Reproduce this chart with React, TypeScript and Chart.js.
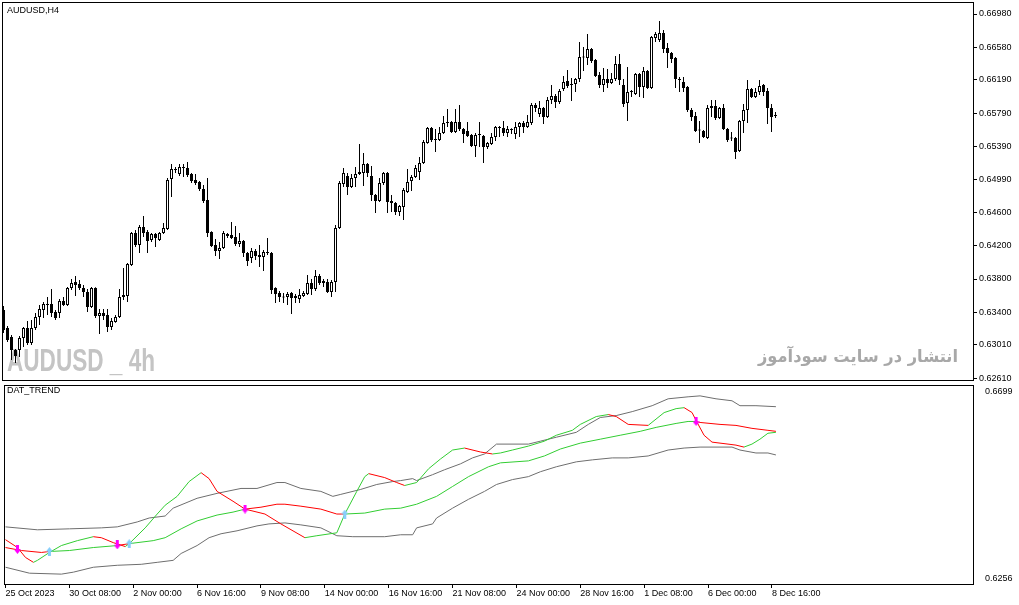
import React, { useEffect, useRef } from "react";
import { Chart, registerables } from "chart.js";
Chart.register(...registerables);

const FONT = '"Liberation Sans", Arial, sans-serif';
Chart.defaults.font.family = FONT;
Chart.defaults.color = "#000";

// ---- candles (AUDUSD H4, bar 0 = 25 Oct 2023 16:00) ----
const open = [
  0.63428, 0.63212, 0.63104, 0.62948, 0.62948, 0.63092, 0.63212, 0.63032, 0.63212, 0.63344,
  0.63428, 0.635, 0.635, 0.63404, 0.63392, 0.63536, 0.63488, 0.63692, 0.63764, 0.6374,
  0.63692, 0.63644, 0.63464, 0.63692, 0.63356, 0.63392, 0.63368, 0.63224, 0.63284, 0.63344,
  0.63584, 0.63596, 0.63968, 0.64352, 0.64208, 0.64424, 0.64364, 0.64268, 0.6434, 0.64268,
  0.64352, 0.644, 0.65, 0.6512, 0.6506, 0.65144, 0.65132, 0.6506, 0.64988, 0.64964,
  0.6488, 0.64748, 0.64364, 0.64208, 0.64136, 0.64172, 0.6434, 0.64328, 0.64304, 0.6422,
  0.64256, 0.64112, 0.64052, 0.64136, 0.64088, 0.64064, 0.64124, 0.64112, 0.63692, 0.63632,
  0.63584, 0.63584, 0.63632, 0.63572, 0.6356, 0.63596, 0.6362, 0.63752, 0.6368, 0.63836,
  0.63752, 0.63764, 0.63644, 0.63764, 0.64412, 0.6494, 0.65036, 0.64904, 0.65012, 0.6506,
  0.65072, 0.6518, 0.65036, 0.64808, 0.64736, 0.64952, 0.65072, 0.64736, 0.64712, 0.64604,
  0.64664, 0.64844, 0.64976, 0.65024, 0.65084, 0.65192, 0.65432, 0.65612, 0.6548, 0.65468,
  0.65552, 0.65672, 0.65684, 0.65564, 0.65684, 0.656, 0.65576, 0.65528, 0.65396, 0.6554,
  0.65516, 0.65384, 0.6542, 0.65504, 0.65624, 0.65612, 0.65552, 0.656, 0.6554, 0.65624,
  0.65672, 0.65624, 0.65672, 0.65888, 0.6578, 0.65852, 0.65744, 0.65948, 0.65996, 0.65924,
  0.6608, 0.66176, 0.6614, 0.6614, 0.662, 0.66458, 0.66452, 0.6656, 0.66428, 0.66248,
  0.66128, 0.662, 0.66152, 0.662, 0.6638, 0.66128, 0.65912, 0.66044, 0.6602, 0.6626,
  0.66104, 0.66296, 0.66092, 0.66692, 0.66668, 0.66752, 0.66572, 0.66512, 0.66452, 0.662,
  0.66164, 0.66104, 0.65828, 0.65756, 0.65588, 0.65576, 0.65492, 0.65876, 0.65876, 0.65732,
  0.65852, 0.656, 0.65492, 0.65492, 0.65336, 0.65696, 0.65828, 0.6608, 0.65984, 0.66044,
  0.66128, 0.66056, 0.65852, 0.65768,
];
const high = [
  0.63476, 0.63236, 0.63128, 0.6296, 0.63116, 0.63224, 0.63296, 0.63308, 0.63392, 0.63488,
  0.63524, 0.63584, 0.6368, 0.63428, 0.6356, 0.63584, 0.63704, 0.638, 0.63836, 0.63788,
  0.63728, 0.6368, 0.63704, 0.637, 0.6344, 0.6344, 0.6344, 0.63332, 0.63368, 0.6368,
  0.63932, 0.63992, 0.64364, 0.64388, 0.64448, 0.64556, 0.64388, 0.64352, 0.64352, 0.64364,
  0.64472, 0.65012, 0.6518, 0.65144, 0.6518, 0.6518, 0.65204, 0.65072, 0.6506, 0.64976,
  0.64928, 0.65012, 0.64372, 0.6428, 0.64244, 0.64376, 0.64352, 0.64484, 0.64436, 0.64352,
  0.64268, 0.64124, 0.64172, 0.6416, 0.64208, 0.64148, 0.64292, 0.64124, 0.637, 0.63656,
  0.63632, 0.63644, 0.63644, 0.6362, 0.6368, 0.63656, 0.63848, 0.638, 0.63908, 0.6386,
  0.638, 0.638, 0.63788, 0.64448, 0.64976, 0.65132, 0.65072, 0.6506, 0.65144, 0.6542,
  0.65312, 0.65192, 0.65156, 0.6482, 0.65012, 0.65084, 0.65084, 0.64808, 0.64724, 0.64688,
  0.64892, 0.6512, 0.65048, 0.65168, 0.65264, 0.65468, 0.65624, 0.65624, 0.656, 0.65624,
  0.65756, 0.6584, 0.65696, 0.6584, 0.65888, 0.65612, 0.65684, 0.6554, 0.65552, 0.65684,
  0.65528, 0.65444, 0.65552, 0.65636, 0.65636, 0.65696, 0.65636, 0.65608, 0.65684, 0.65684,
  0.65696, 0.65768, 0.65912, 0.65912, 0.65936, 0.65864, 0.65984, 0.66128, 0.6602, 0.6608,
  0.66236, 0.66308, 0.66212, 0.66212, 0.66644, 0.66584, 0.6674, 0.66572, 0.6644, 0.66284,
  0.66332, 0.6632, 0.66272, 0.66476, 0.665, 0.662, 0.66344, 0.66068, 0.66272, 0.66272,
  0.66344, 0.66308, 0.66716, 0.66764, 0.66896, 0.66788, 0.66632, 0.66524, 0.66464, 0.66224,
  0.66224, 0.66116, 0.65852, 0.65804, 0.65696, 0.65588, 0.65888, 0.65948, 0.65948, 0.65864,
  0.659, 0.65612, 0.65564, 0.65504, 0.65708, 0.659, 0.66188, 0.66092, 0.66092, 0.66188,
  0.6614, 0.66092, 0.659, 0.65804,
];
const low = [
  0.63152, 0.63044, 0.62828, 0.62792, 0.62864, 0.62984, 0.63008, 0.63008, 0.63188, 0.63248,
  0.63332, 0.63368, 0.63344, 0.63308, 0.63332, 0.63476, 0.63476, 0.63668, 0.63596, 0.63668,
  0.63584, 0.63404, 0.63452, 0.63332, 0.6314, 0.63308, 0.63164, 0.63188, 0.63276, 0.63332,
  0.63548, 0.63524, 0.63956, 0.64184, 0.64112, 0.64304, 0.64112, 0.64244, 0.64184, 0.64256,
  0.6434, 0.64388, 0.64784, 0.65072, 0.65036, 0.65024, 0.65024, 0.64952, 0.64928, 0.64856,
  0.64712, 0.64304, 0.64184, 0.64076, 0.6404, 0.6416, 0.64292, 0.6428, 0.64196, 0.64184,
  0.64064, 0.63956, 0.63992, 0.64028, 0.63944, 0.63896, 0.64088, 0.6362, 0.63512, 0.63524,
  0.63512, 0.63488, 0.6338, 0.63512, 0.63512, 0.63584, 0.63608, 0.63608, 0.63656, 0.63728,
  0.63704, 0.63632, 0.63584, 0.63644, 0.644, 0.64904, 0.64808, 0.64892, 0.64904, 0.65048,
  0.64916, 0.65024, 0.64736, 0.64592, 0.64724, 0.64928, 0.64592, 0.64604, 0.64568, 0.64556,
  0.64508, 0.64832, 0.64856, 0.65012, 0.64988, 0.6518, 0.65424, 0.65444, 0.65324, 0.65456,
  0.6554, 0.65624, 0.65552, 0.65552, 0.65576, 0.65432, 0.65504, 0.65384, 0.65264, 0.65384,
  0.65192, 0.6536, 0.65408, 0.65456, 0.65504, 0.65516, 0.65504, 0.6554, 0.6548, 0.65504,
  0.65552, 0.65612, 0.65648, 0.65804, 0.65744, 0.6566, 0.65732, 0.659, 0.65852, 0.659,
  0.66056, 0.66092, 0.65936, 0.66044, 0.66164, 0.66296, 0.66368, 0.66392, 0.66224, 0.66092,
  0.66044, 0.66092, 0.6614, 0.66176, 0.66128, 0.65864, 0.65696, 0.65984, 0.66008, 0.65984,
  0.65972, 0.6608, 0.6608, 0.66644, 0.66644, 0.66512, 0.66332, 0.66392, 0.66092, 0.66044,
  0.66044, 0.65804, 0.65696, 0.65564, 0.65432, 0.65492, 0.6548, 0.65744, 0.65708, 0.6572,
  0.65588, 0.65444, 0.65456, 0.6524, 0.65324, 0.65552, 0.65672, 0.65972, 0.65972, 0.66008,
  0.65996, 0.6566, 0.65564, 0.65732,
];
const close = [
  0.63188, 0.63068, 0.62948, 0.62876, 0.63092, 0.63212, 0.63032, 0.63212, 0.63344, 0.6344,
  0.635, 0.63488, 0.63392, 0.63332, 0.63536, 0.63488, 0.63692, 0.63752, 0.63728, 0.63692,
  0.63644, 0.63464, 0.63692, 0.63356, 0.63392, 0.63356, 0.63224, 0.63296, 0.63344, 0.63584,
  0.63608, 0.6398, 0.64352, 0.64208, 0.64424, 0.64352, 0.64256, 0.6434, 0.64292, 0.64352,
  0.64412, 0.64988, 0.6512, 0.65108, 0.65144, 0.65132, 0.65048, 0.64976, 0.64952, 0.6488,
  0.64736, 0.64352, 0.64196, 0.64136, 0.64172, 0.64352, 0.64316, 0.64292, 0.6422, 0.64256,
  0.64112, 0.64016, 0.64136, 0.64076, 0.64064, 0.64124, 0.64112, 0.63668, 0.6362, 0.63584,
  0.63578, 0.6362, 0.63572, 0.63596, 0.63608, 0.63632, 0.63752, 0.6368, 0.63836, 0.63752,
  0.63776, 0.63644, 0.63764, 0.64412, 0.64952, 0.65072, 0.64904, 0.65012, 0.6506, 0.65084,
  0.6518, 0.65072, 0.64808, 0.64736, 0.64952, 0.65072, 0.64724, 0.64712, 0.64604, 0.64676,
  0.64868, 0.64964, 0.65024, 0.65132, 0.65192, 0.65444, 0.65612, 0.65468, 0.65468, 0.65552,
  0.65672, 0.65684, 0.65564, 0.65684, 0.656, 0.6554, 0.65516, 0.65396, 0.65528, 0.65528,
  0.65384, 0.65432, 0.65504, 0.65624, 0.65612, 0.65552, 0.656, 0.65588, 0.65624, 0.65672,
  0.65624, 0.65684, 0.65888, 0.65852, 0.65852, 0.65744, 0.65948, 0.65996, 0.65924, 0.66056,
  0.66164, 0.66116, 0.66128, 0.662, 0.66464, 0.66464, 0.6656, 0.66416, 0.66236, 0.66128,
  0.662, 0.66152, 0.662, 0.6638, 0.66188, 0.659, 0.66044, 0.66056, 0.6626, 0.66104,
  0.66296, 0.66092, 0.66704, 0.6674, 0.66752, 0.6656, 0.66512, 0.6644, 0.662, 0.66188,
  0.66092, 0.65828, 0.65744, 0.65576, 0.65582, 0.65504, 0.65852, 0.65852, 0.65732, 0.65852,
  0.656, 0.65468, 0.65486, 0.65324, 0.65696, 0.65828, 0.6608, 0.65984, 0.66044, 0.66116,
  0.66044, 0.65852, 0.65744, 0.65756,
];

// ---- axes ----
const priceTicks = [0.6698, 0.6658, 0.6619, 0.6579, 0.6539, 0.6499, 0.646, 0.642, 0.638, 0.634, 0.6301, 0.6261];
const indicatorTicks = [0.6699, 0.6256];
const timeTickBars = [0, 16, 32, 48, 64, 80, 96, 112, 128, 144, 160, 176, 192];
const timeTickLabels = [
  "25 Oct 2023", "30 Oct 08:00", "2 Nov 00:00", "6 Nov 16:00", "9 Nov 08:00", "14 Nov 00:00",
  "16 Nov 16:00", "21 Nov 08:00", "24 Nov 00:00", "28 Nov 16:00", "1 Dec 08:00", "6 Dec 00:00", "8 Dec 16:00",
];

// ---- DAT_TREND indicator: [bar, value] ----
const upperBand = [
  [0, 0.63779], [8, 0.63709], [16, 0.63732], [24, 0.63755], [28, 0.63779], [33, 0.63896], [36, 0.6399],
  [40, 0.64037], [42, 0.64224], [48, 0.64459], [53, 0.64576], [59, 0.64693], [63, 0.64693], [68, 0.64834],
  [70, 0.64834], [74, 0.64693], [79, 0.64623], [82, 0.64505], [84, 0.64552], [89, 0.6467], [93, 0.64787],
  [97, 0.64857], [99, 0.6488], [102, 0.64927], [103, 0.6488], [107, 0.65021], [110, 0.65138], [114, 0.65279],
  [117, 0.6542], [120, 0.65513], [123, 0.65748], [131, 0.65748], [134, 0.65818], [138, 0.65912], [143, 0.66029],
  [146, 0.66217], [149, 0.66381], [153, 0.66427], [157, 0.66521], [162, 0.66662], [166, 0.66826], [171, 0.66873],
  [174, 0.66896], [178, 0.66826], [182, 0.66779], [184, 0.66662], [188, 0.66662], [193, 0.66638],
];
const lowerBand = [
  [0, 0.62818], [6, 0.62677], [14, 0.62654], [17, 0.62701], [22, 0.62818], [28, 0.62865], [34, 0.62888],
  [38, 0.62935], [42, 0.62982], [44, 0.63146], [48, 0.63334], [51, 0.63521], [54, 0.63615], [58, 0.63685],
  [63, 0.63802], [66, 0.63849], [70, 0.63873], [74, 0.63826], [79, 0.63755], [83, 0.63568], [87, 0.63545],
  [95, 0.63545], [99, 0.63591], [102, 0.63591], [103, 0.63755], [107, 0.63849], [108, 0.6399], [112, 0.64224],
  [116, 0.64435], [120, 0.64623], [123, 0.64787], [127, 0.64904], [131, 0.64974], [134, 0.65091], [138, 0.65209],
  [143, 0.65326], [147, 0.65373], [152, 0.6542], [156, 0.6542], [161, 0.65466], [166, 0.65607], [170, 0.65654],
  [174, 0.65677], [182, 0.65677], [184, 0.65607], [188, 0.65537], [191, 0.65537], [193, 0.6549],
];
const midLine = [
  [0, 0.63287], [4, 0.63216], [9, 0.6317], [11, 0.63193], [16, 0.63216], [22, 0.63287], [28, 0.63334],
  [31, 0.6338], [37, 0.63451], [40, 0.63521], [44, 0.63732], [48, 0.6392], [53, 0.6406], [57, 0.6413],
  [60, 0.64201], [64, 0.64247], [68, 0.64318], [70, 0.64318], [74, 0.64271], [79, 0.64201], [83, 0.64084],
  [85, 0.64084], [90, 0.64107], [95, 0.64201], [99, 0.64224], [103, 0.64318], [108, 0.64505], [112, 0.6474],
  [116, 0.64974], [121, 0.65209], [124, 0.65302], [131, 0.65349], [135, 0.65466], [139, 0.65631], [144, 0.65771],
  [149, 0.65865], [154, 0.65959], [159, 0.66052], [163, 0.66146], [168, 0.6624], [171, 0.66287], [173, 0.66287],
  [174, 0.66263], [179, 0.66217], [183, 0.66193], [187, 0.66123], [191, 0.66076], [193, 0.66052],
];
const fastLine = [
  [0, 0.63474], [3, 0.63287], [5, 0.63052], [7, 0.62935], [8, 0.62982], [11, 0.6317], [14, 0.63334],
  [18, 0.63451], [22, 0.63545], [24, 0.63521], [27, 0.63404], [30, 0.6331], [31, 0.6338], [35, 0.63755],
  [38, 0.64084], [40, 0.64294], [43, 0.64505], [46, 0.64857], [49, 0.65068], [51, 0.64927], [53, 0.64623],
  [57, 0.64388], [60, 0.64201], [65, 0.64084], [69, 0.63849], [75, 0.63521], [78, 0.63568], [83, 0.63638],
  [85, 0.64084], [88, 0.64623], [90, 0.64974], [91, 0.65045], [95, 0.64951], [98, 0.64834], [100, 0.64763],
  [103, 0.64834], [106, 0.65162], [109, 0.65396], [112, 0.65607], [115, 0.65654], [119, 0.6556], [122, 0.65513],
  [124, 0.65537], [127, 0.65607], [131, 0.65701], [135, 0.65818], [138, 0.65959], [142, 0.66076], [144, 0.66217],
  [148, 0.66404], [151, 0.66451], [153, 0.66404], [156, 0.66217], [161, 0.66193], [165, 0.66498], [168, 0.66592],
  [170, 0.66615], [172, 0.66498], [173, 0.6631], [175, 0.65959], [177, 0.65795], [181, 0.65748], [183, 0.65724],
  [185, 0.65677], [187, 0.65748], [189, 0.65865], [191, 0.66006], [193, 0.66029],
];
const downSignals = [[3, 0.6324], [28, 0.6335], [60, 0.64201], [173, 0.66287]];
const upSignals = [[11, 0.63193], [31, 0.6338], [85, 0.64084]];

// ---- styling constants ----
const X_MIN = -0.125;
const X_MAX = 242.375;
const RED = "#ff0000";
const GREEN = "#32cd32";
const GRAY = "#6e6e6e";

const pts = (arr: number[][]) => arr.map(([x, y]) => ({ x, y }));

const signals = [
  ...downSignals.map(([b]) => ({ b, up: false })),
  ...upSignals.map(([b]) => ({ b, up: true })),
].sort((a, c) => a.b - c.b);
const upStateAt = (bar: number) => {
  let s = false;
  for (const sg of signals) if (sg.b <= bar) s = sg.up;
  return s;
};

const noPad = (s: any) => {
  s.paddingTop = 0;
  s.paddingBottom = 0;
  s.paddingLeft = 0;
  s.paddingRight = 0;
};

function makeArrow(up: boolean, color: string) {
  const c = document.createElement("canvas");
  c.width = 7;
  c.height = 9;
  const g = c.getContext("2d")!;
  g.fillStyle = color;
  g.beginPath();
  if (up) {
    g.moveTo(3.5, 0);
    g.lineTo(7, 4.5);
    g.lineTo(0, 4.5);
    g.closePath();
    g.fill();
    g.fillRect(2, 4, 3, 5);
  } else {
    g.moveTo(0, 4.5);
    g.lineTo(7, 4.5);
    g.lineTo(3.5, 9);
    g.closePath();
    g.fill();
    g.fillRect(2, 0, 3, 5);
  }
  return c;
}

const framePlugin = (title: string, titleY: number, watermark: boolean) => ({
  id: "mtframe",
  beforeDatasetsDraw(chart: any) {
    if (!watermark) return;
    const ctx = chart.ctx;
    ctx.save();
    ctx.textBaseline = "alphabetic";
    ctx.fillStyle = "#c4c4c4";
    ctx.font = `bold 31px ${FONT}`;
    const t1 = "AUDUSD _ 4h";
    const w1 = ctx.measureText(t1).width;
    ctx.save();
    ctx.translate(7, 371);
    ctx.scale(148 / w1, 1);
    ctx.textAlign = "left";
    ctx.fillText(t1, 0, 0);
    ctx.restore();
    ctx.fillStyle = "#a8a8a8";
    ctx.font = 'bold 17px "DejaVu Sans", sans-serif';
    const t2 = "انتشار در سایت سودآموز";
    const w2 = ctx.measureText(t2).width;
    ctx.save();
    ctx.translate(958, 362);
    ctx.scale(200 / w2, 1);
    ctx.textAlign = "right";
    ctx.fillText(t2, 0, 0);
    ctx.restore();
    ctx.restore();
  },
  afterDraw(chart: any) {
    const ctx = chart.ctx;
    const a = chart.chartArea;
    ctx.save();
    ctx.strokeStyle = "#000";
    ctx.lineWidth = 1;
    ctx.strokeRect(a.left - 0.5, a.top - 0.5, a.right - a.left + 1, a.bottom - a.top + 1);
    ctx.fillStyle = "#000";
    ctx.font = `9px ${FONT}`;
    ctx.textBaseline = "middle";
    ctx.textAlign = "left";
    ctx.fillText(title, 7, titleY);
    ctx.restore();
  },
});

export default function App() {
  const refA = useRef<HTMLCanvasElement>(null);
  const refB = useRef<HTMLCanvasElement>(null);

  useEffect(() => {
    const bodies = open.map((o, i) => ({ x: i, y: [o, close[i]] }));
    const wicks = low.map((l, i) => ({ x: i, y: [l, high[i]] }));
    const chartA = new Chart(refA.current!, {
      type: "bar",
      data: {
        datasets: [
          {
            data: bodies as any,
            backgroundColor: open.map((o, i) => (close[i] >= o ? "#ffffff" : "#000000")),
            borderColor: "#000",
            borderWidth: 1,
            borderSkipped: false,
            barThickness: 3,
            grouped: false,
            inflateAmount: 0,
            minBarLength: 1,
            order: 1,
          } as any,
          {
            data: wicks as any,
            backgroundColor: "#000",
            borderWidth: 0,
            barThickness: 1,
            grouped: false,
            inflateAmount: 0,
            minBarLength: 1,
            order: 2,
          } as any,
        ],
      },
      options: {
        animation: false,
        responsive: false,
        events: [],
        layout: { padding: { left: 3, top: 3, right: 0, bottom: 1 } },
        plugins: { legend: { display: false }, tooltip: { enabled: false } },
        scales: {
          x: { type: "linear", min: X_MIN, max: X_MAX, display: false, offset: false, grid: { offset: false } },
          y: {
            type: "linear",
            position: "right",
            min: 0.62588,
            max: 0.67112,
            bounds: "data",
            beginAtZero: false,
            afterFit: (s: any) => { s.width = 46; noPad(s); },
            afterBuildTicks: (s: any) => { s.ticks = priceTicks.map((v) => ({ value: v })); },
            ticks: {
              autoSkip: false,
              padding: 2,
              color: "#000",
              font: { family: FONT, size: 9 },
              callback: (v: any) => Number(v).toFixed(5),
            },
            grid: { drawOnChartArea: false, drawTicks: true, tickLength: 4, color: "#000" },
            border: { display: false },
          } as any,
        },
      },
      plugins: [framePlugin("AUDUSD,H4", 11, true)],
    });

    const downArrow = makeArrow(false, "#ff00ff");
    const upArrow = makeArrow(true, "#87cefa");
    const chartB = new Chart(refB.current!, {
      type: "line",
      data: {
        datasets: [
          { data: pts(downSignals), showLine: false, pointStyle: downArrow, pointRadius: 4, order: 0 } as any,
          { data: pts(upSignals), showLine: false, pointStyle: upArrow, pointRadius: 4, order: 0 } as any,
          {
            data: pts(midLine),
            borderColor: RED,
            borderWidth: 1,
            pointRadius: 0,
            tension: 0,
            order: 1,
            segment: { borderColor: (c: any) => (upStateAt(c.p0.parsed.x) ? GREEN : RED) },
          } as any,
          {
            data: pts(fastLine),
            borderColor: GREEN,
            borderWidth: 1,
            pointRadius: 0,
            tension: 0,
            order: 2,
            segment: { borderColor: (c: any) => (c.p1.parsed.y >= c.p0.parsed.y ? GREEN : RED) },
          } as any,
          { data: pts(upperBand), borderColor: GRAY, borderWidth: 1, pointRadius: 0, tension: 0, order: 3 } as any,
          { data: pts(lowerBand), borderColor: GRAY, borderWidth: 1, pointRadius: 0, tension: 0, order: 3 } as any,
        ],
      },
      options: {
        animation: false,
        responsive: false,
        events: [],
        layout: { padding: { left: 3, top: 2, right: 0, bottom: 0 } },
        plugins: { legend: { display: false }, tooltip: { enabled: false } },
        scales: {
          x: {
            type: "linear",
            min: X_MIN,
            max: X_MAX,
            offset: false,
            bounds: "data",
            afterFit: (s: any) => { s.height = 21; noPad(s); },
            afterBuildTicks: (s: any) => { s.ticks = timeTickBars.map((v) => ({ value: v })); },
            ticks: {
              autoSkip: false,
              maxRotation: 0,
              align: "start",
              padding: 0,
              color: "#000",
              font: { family: FONT, size: 9 },
              callback: (_v: any, i: number) => timeTickLabels[i],
            },
            grid: { drawOnChartArea: false, drawTicks: true, tickLength: 4, color: "#000", offset: false },
            border: { display: false },
          } as any,
          y: {
            type: "linear",
            position: "right",
            min: 0.624194,
            max: 0.671306,
            bounds: "data",
            afterFit: (s: any) => { s.width = 46; noPad(s); },
            afterBuildTicks: (s: any) => { s.ticks = indicatorTicks.map((v) => ({ value: v })); },
            ticks: {
              autoSkip: false,
              padding: 4,
              color: "#000",
              font: { family: FONT, size: 9 },
              callback: (v: any) => Number(v).toFixed(4),
            },
            grid: { display: false },
            border: { display: false },
          } as any,
        },
      },
      plugins: [framePlugin("DAT_TREND", 10, false)],
    });

    return () => {
      chartA.destroy();
      chartB.destroy();
    };
  }, []);

  return (
    <div style={{ position: "absolute", left: 0, top: 0, width: 1019, height: 605, background: "#fff", overflow: "hidden" }}>
      <canvas ref={refA} width={1019} height={381} style={{ position: "absolute", left: 0, top: 0, width: 1019, height: 381 }} />
      <canvas ref={refB} width={1019} height={224} style={{ position: "absolute", left: 0, top: 381, width: 1019, height: 224 }} />
    </div>
  );
}
